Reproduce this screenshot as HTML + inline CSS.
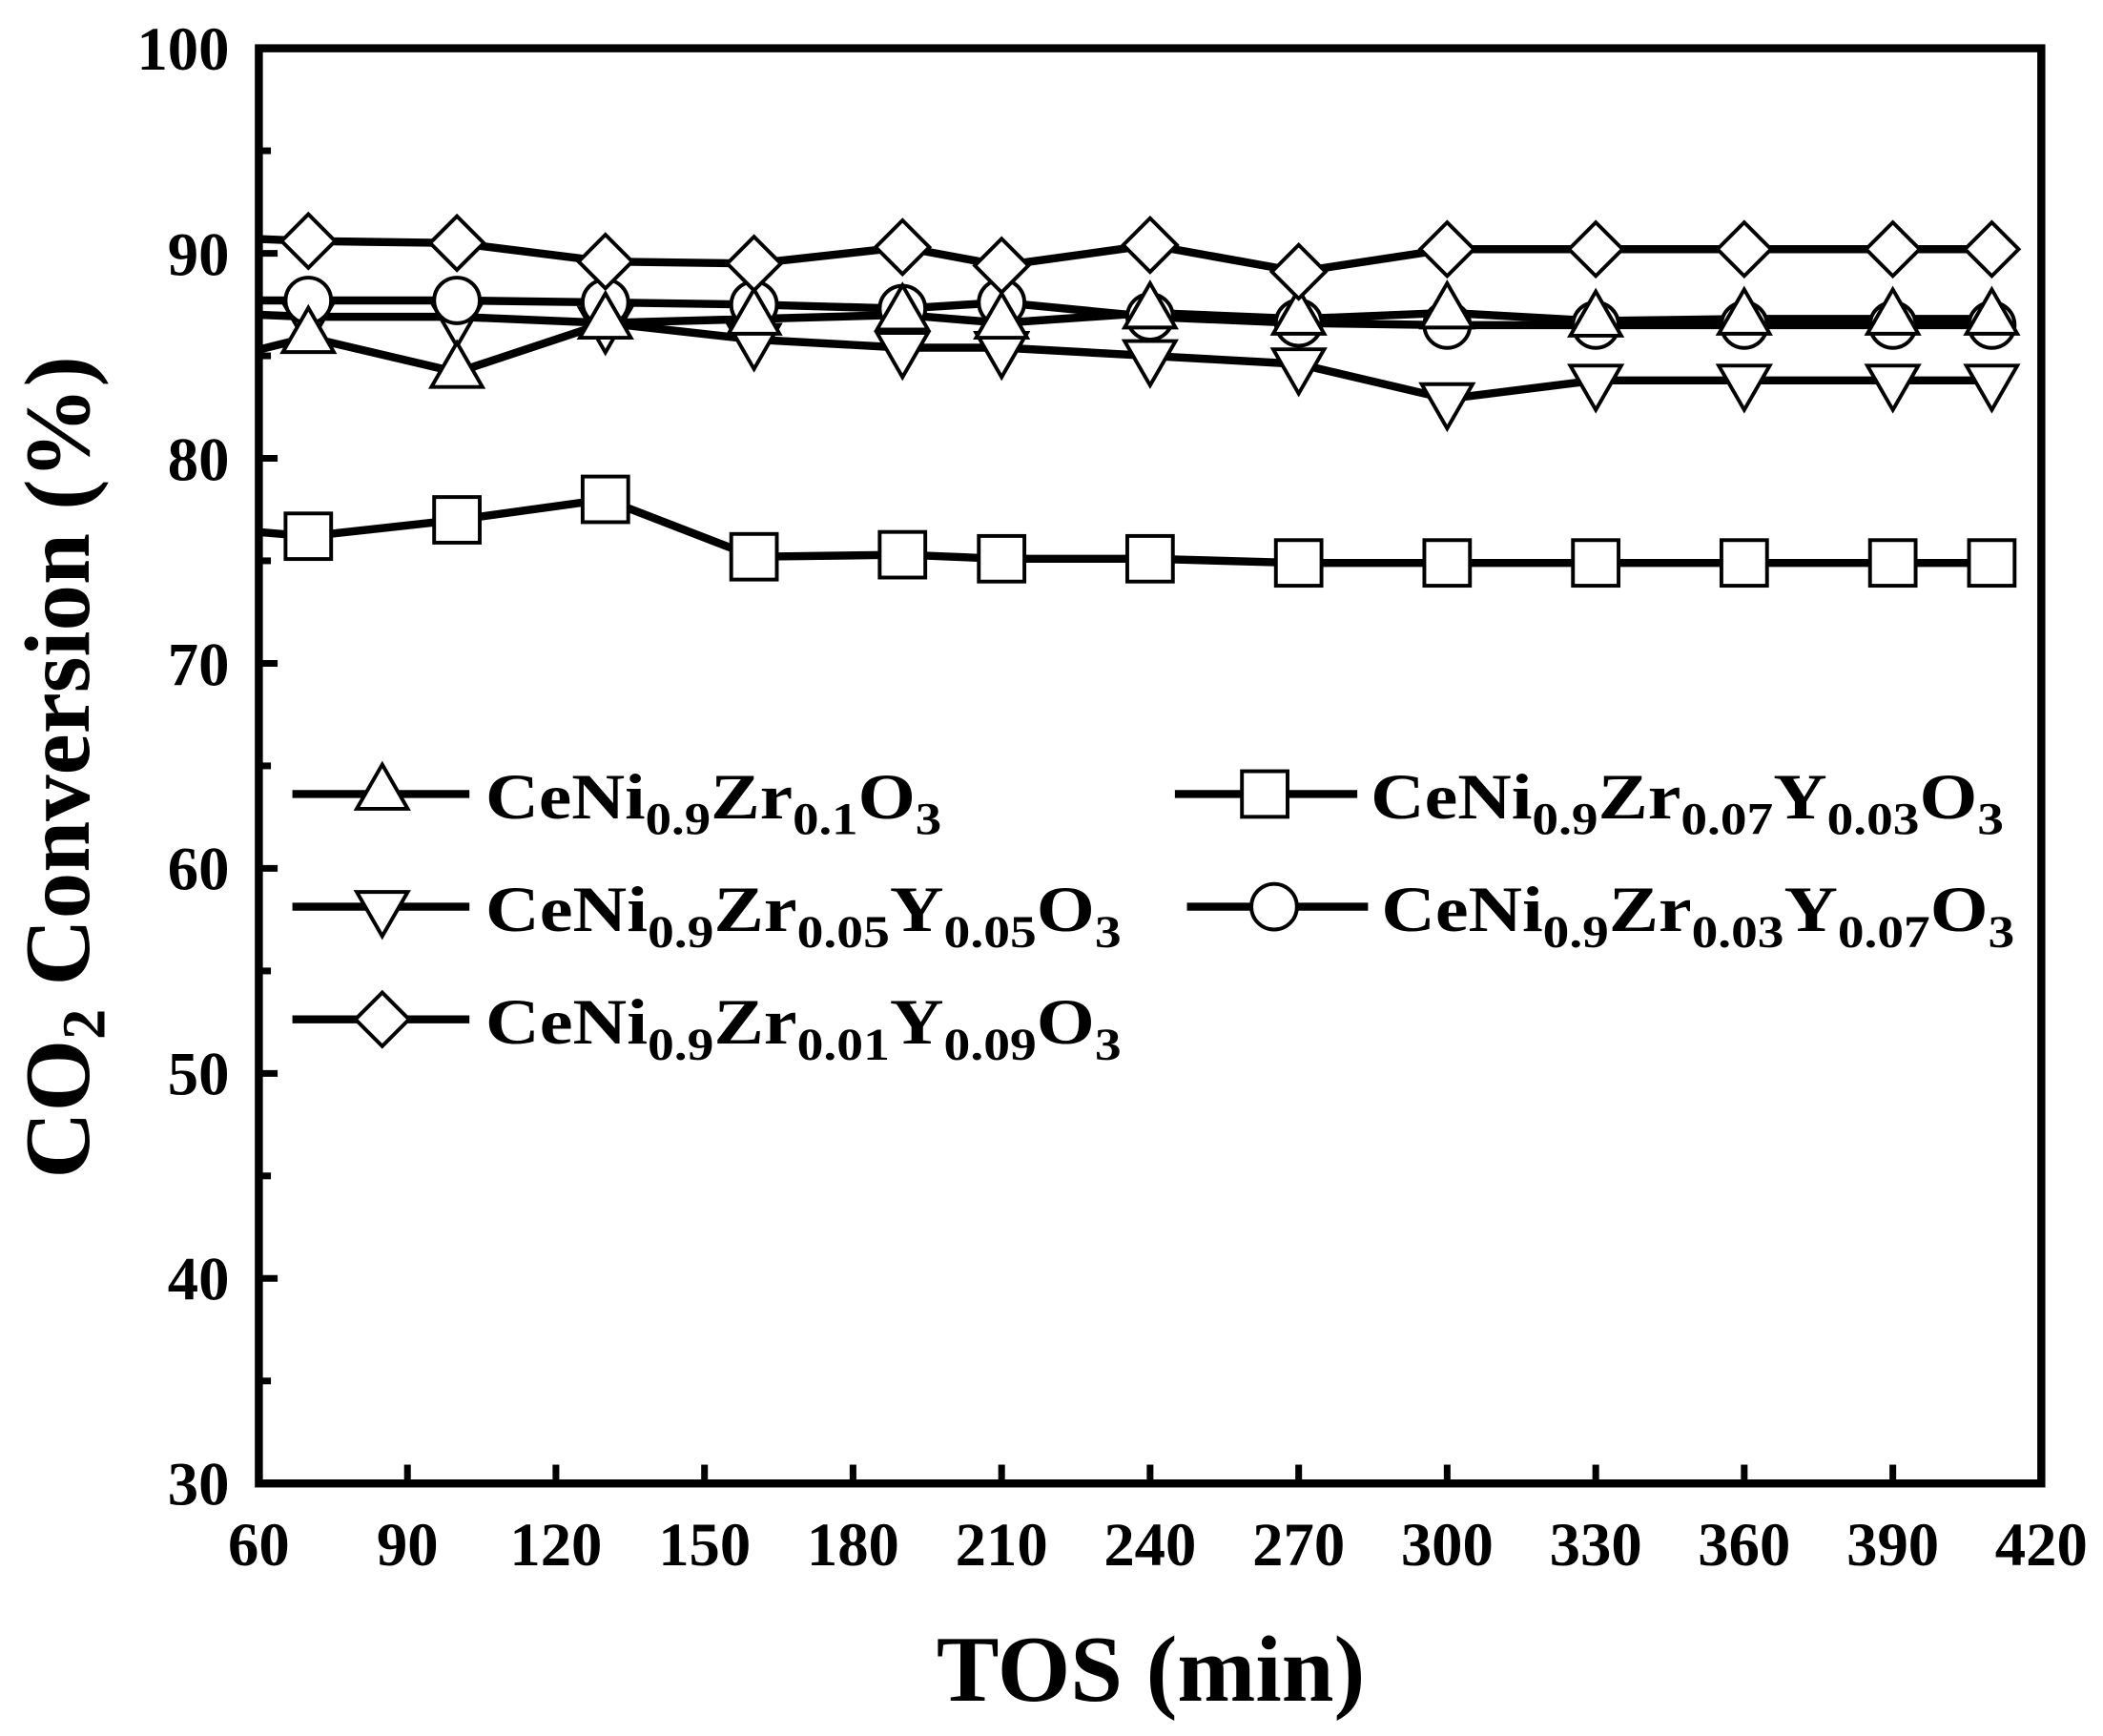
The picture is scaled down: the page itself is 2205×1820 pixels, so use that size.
<!DOCTYPE html>
<html><head><meta charset="utf-8"><style>html,body{margin:0;padding:0;background:#fff}svg{display:block}</style></head><body>
<svg xmlns="http://www.w3.org/2000/svg" xmlns:xlink="http://www.w3.org/1999/xlink" width="2205" height="1820" viewBox="0 0 1568 1294.3" preserveAspectRatio="none" font-family="Liberation Serif, serif" font-weight="bold">
<defs>
<polygon id="tu" points="0,-19 19,14 -19,14" fill="#fff" stroke="#000" stroke-width="2.8"/>
<polygon id="td" points="0,19 19,-14 -19,-14" fill="#fff" stroke="#000" stroke-width="2.8"/>
<rect id="sq" x="-17" y="-17" width="34" height="34" fill="#fff" stroke="#000" stroke-width="2.8"/>
<circle id="ci" r="17" fill="#fff" stroke="#000" stroke-width="2.8"/>
<polygon id="di" points="0,-20 20,0 0,20 -20,0" fill="#fff" stroke="#000" stroke-width="2.8"/>
</defs>
<g fill="none" stroke="#000" stroke-width="6" stroke-linejoin="round">
<polyline points="193,396.7 229.9,399.8 340.7,387.6 451.4,372.3 562.2,415.1 672.9,413.6 746.8,416.6 857.5,416.6 968.3,419.7 1079,419.7 1189.8,419.7 1300.5,419.7 1411.3,419.7 1485.1,419.7"/>
<polyline points="193,234.7 229.9,236.2 340.7,236.2 451.4,240.8 562.2,253.1 672.9,259.2 746.8,259.2 857.5,265.3 968.3,271.4 1079,297.4 1189.8,283.6 1300.5,283.6 1411.3,283.6 1485.1,283.6"/>
<polyline points="193,260.7 229.9,251.5 340.7,277.5 451.4,240.8 562.2,237.8 672.9,234.7 746.8,240.8 857.5,233.2 968.3,237.8 1079,233.2 1189.8,239.3 1300.5,237.8 1411.3,237.8 1485.1,237.8"/>
<polyline points="193,224 229.9,224 340.7,224 451.4,225.5 562.2,227.1 672.9,230.1 746.8,225.5 857.5,236.2 968.3,240.8 1079,242.4 1189.8,242.4 1300.5,242.4 1411.3,242.4 1485.1,242.4"/>
<polyline points="193,178.2 229.9,179.7 340.7,181.2 451.4,195 562.2,196.5 672.9,184.3 746.8,198 857.5,182.7 968.3,202.6 1079,185.8 1189.8,185.8 1300.5,185.8 1411.3,185.8 1485.1,185.8"/>
</g>
<use xlink:href="#sq" x="229.9" y="399.8"/><use xlink:href="#sq" x="340.7" y="387.6"/><use xlink:href="#sq" x="451.4" y="372.3"/><use xlink:href="#sq" x="562.2" y="415.1"/><use xlink:href="#sq" x="672.9" y="413.6"/><use xlink:href="#sq" x="746.8" y="416.6"/><use xlink:href="#sq" x="857.5" y="416.6"/><use xlink:href="#sq" x="968.3" y="419.7"/><use xlink:href="#sq" x="1079" y="419.7"/><use xlink:href="#sq" x="1189.8" y="419.7"/><use xlink:href="#sq" x="1300.5" y="419.7"/><use xlink:href="#sq" x="1411.3" y="419.7"/><use xlink:href="#sq" x="1485.1" y="419.7"/>
<use xlink:href="#td" x="229.9" y="239.2"/><use xlink:href="#td" x="340.7" y="239.2"/><use xlink:href="#td" x="451.4" y="243.8"/><use xlink:href="#td" x="562.2" y="256.1"/><use xlink:href="#td" x="672.9" y="262.2"/><use xlink:href="#td" x="746.8" y="262.2"/><use xlink:href="#td" x="857.5" y="268.3"/><use xlink:href="#td" x="968.3" y="274.4"/><use xlink:href="#td" x="1079" y="300.4"/><use xlink:href="#td" x="1189.8" y="286.6"/><use xlink:href="#td" x="1300.5" y="286.6"/><use xlink:href="#td" x="1411.3" y="286.6"/><use xlink:href="#td" x="1485.1" y="286.6"/>
<use xlink:href="#ci" x="229.9" y="224"/><use xlink:href="#ci" x="340.7" y="224"/><use xlink:href="#ci" x="451.4" y="225.5"/><use xlink:href="#ci" x="562.2" y="227.1"/><use xlink:href="#ci" x="672.9" y="230.1"/><use xlink:href="#ci" x="746.8" y="225.5"/><use xlink:href="#ci" x="857.5" y="236.2"/><use xlink:href="#ci" x="968.3" y="240.8"/><use xlink:href="#ci" x="1079" y="242.4"/><use xlink:href="#ci" x="1189.8" y="242.4"/><use xlink:href="#ci" x="1300.5" y="242.4"/><use xlink:href="#ci" x="1411.3" y="242.4"/><use xlink:href="#ci" x="1485.1" y="242.4"/>
<use xlink:href="#tu" x="229.9" y="248.5"/><use xlink:href="#tu" x="340.7" y="274.5"/><use xlink:href="#tu" x="451.4" y="237.8"/><use xlink:href="#tu" x="562.2" y="234.8"/><use xlink:href="#tu" x="672.9" y="231.7"/><use xlink:href="#tu" x="746.8" y="237.8"/><use xlink:href="#tu" x="857.5" y="230.2"/><use xlink:href="#tu" x="968.3" y="234.8"/><use xlink:href="#tu" x="1079" y="230.2"/><use xlink:href="#tu" x="1189.8" y="236.3"/><use xlink:href="#tu" x="1300.5" y="234.8"/><use xlink:href="#tu" x="1411.3" y="234.8"/><use xlink:href="#tu" x="1485.1" y="234.8"/>
<use xlink:href="#di" x="229.9" y="179.7"/><use xlink:href="#di" x="340.7" y="181.2"/><use xlink:href="#di" x="451.4" y="195"/><use xlink:href="#di" x="562.2" y="196.5"/><use xlink:href="#di" x="672.9" y="184.3"/><use xlink:href="#di" x="746.8" y="198"/><use xlink:href="#di" x="857.5" y="182.7"/><use xlink:href="#di" x="968.3" y="202.6"/><use xlink:href="#di" x="1079" y="185.8"/><use xlink:href="#di" x="1189.8" y="185.8"/><use xlink:href="#di" x="1300.5" y="185.8"/><use xlink:href="#di" x="1411.3" y="185.8"/><use xlink:href="#di" x="1485.1" y="185.8"/>
<rect x="193" y="36" width="1329" height="1070" fill="none" stroke="#000" stroke-width="6"/>
<g stroke="#000" stroke-width="5">
<line x1="193" y1="1029.6" x2="202" y2="1029.6"/><line x1="193" y1="953.1" x2="207" y2="953.1"/><line x1="193" y1="876.7" x2="202" y2="876.7"/><line x1="193" y1="800.3" x2="207" y2="800.3"/><line x1="193" y1="723.9" x2="202" y2="723.9"/><line x1="193" y1="647.4" x2="207" y2="647.4"/><line x1="193" y1="571" x2="202" y2="571"/><line x1="193" y1="494.6" x2="207" y2="494.6"/><line x1="193" y1="418.1" x2="202" y2="418.1"/><line x1="193" y1="341.7" x2="207" y2="341.7"/><line x1="193" y1="265.3" x2="202" y2="265.3"/><line x1="193" y1="188.9" x2="207" y2="188.9"/><line x1="193" y1="112.4" x2="202" y2="112.4"/>
<line x1="303.8" y1="1106" x2="303.8" y2="1092"/><line x1="414.5" y1="1106" x2="414.5" y2="1092"/><line x1="525.3" y1="1106" x2="525.3" y2="1092"/><line x1="636" y1="1106" x2="636" y2="1092"/><line x1="746.8" y1="1106" x2="746.8" y2="1092"/><line x1="857.5" y1="1106" x2="857.5" y2="1092"/><line x1="968.3" y1="1106" x2="968.3" y2="1092"/><line x1="1079" y1="1106" x2="1079" y2="1092"/><line x1="1189.8" y1="1106" x2="1189.8" y2="1092"/><line x1="1300.5" y1="1106" x2="1300.5" y2="1092"/><line x1="1411.3" y1="1106" x2="1411.3" y2="1092"/>
</g>
<g font-size="46" text-anchor="end">
<text x="171" y="1122">30</text><text x="171" y="969">40</text><text x="171" y="816">50</text><text x="171" y="663">60</text><text x="171" y="511">70</text><text x="171" y="358">80</text><text x="171" y="205">90</text><text x="171" y="52">100</text>
</g>
<g font-size="46" text-anchor="middle">
<text x="193" y="1167">60</text><text x="303.8" y="1167">90</text><text x="414.5" y="1167">120</text><text x="525.3" y="1167">150</text><text x="636" y="1167">180</text><text x="746.8" y="1167">210</text><text x="857.5" y="1167">240</text><text x="968.3" y="1167">270</text><text x="1079" y="1167">300</text><text x="1189.8" y="1167">330</text><text x="1300.5" y="1167">360</text><text x="1411.3" y="1167">390</text><text x="1522" y="1167">420</text>
</g>
<text x="858" y="1268" font-size="70" text-anchor="middle">TOS (min)</text>
<text transform="translate(66,572) rotate(-90)" font-size="69" text-anchor="middle">CO<tspan font-size="46" dy="12">2</tspan><tspan dy="-12"> Conversion (%)</tspan></text>
<g stroke="#000" stroke-width="6">
<line x1="218" y1="592" x2="350" y2="592"/><line x1="876" y1="592" x2="1012" y2="592"/>
<line x1="218" y1="676" x2="350" y2="676"/><line x1="885" y1="676" x2="1020" y2="676"/>
<line x1="218" y1="760" x2="350" y2="760"/>
</g>
<use xlink:href="#tu" x="285" y="589"/><use xlink:href="#sq" x="943" y="592"/>
<use xlink:href="#td" x="285" y="679"/><use xlink:href="#ci" x="950" y="676"/>
<use xlink:href="#di" x="285" y="760"/>
<g font-size="48">
<text x="362" y="610" textLength="340" lengthAdjust="spacingAndGlyphs">CeNi<tspan font-size="34" dy="12">0.9</tspan><tspan dy="-12">Zr</tspan><tspan font-size="34" dy="12">0.1</tspan><tspan dy="-12">O</tspan><tspan font-size="34" dy="12">3</tspan></text>
<text x="1022" y="610" textLength="472" lengthAdjust="spacingAndGlyphs">CeNi<tspan font-size="34" dy="12">0.9</tspan><tspan dy="-12">Zr</tspan><tspan font-size="34" dy="12">0.07</tspan><tspan dy="-12">Y</tspan><tspan font-size="34" dy="12">0.03</tspan><tspan dy="-12">O</tspan><tspan font-size="34" dy="12">3</tspan></text>
<text x="362" y="694" textLength="474" lengthAdjust="spacingAndGlyphs">CeNi<tspan font-size="34" dy="12">0.9</tspan><tspan dy="-12">Zr</tspan><tspan font-size="34" dy="12">0.05</tspan><tspan dy="-12">Y</tspan><tspan font-size="34" dy="12">0.05</tspan><tspan dy="-12">O</tspan><tspan font-size="34" dy="12">3</tspan></text>
<text x="1030" y="694" textLength="472" lengthAdjust="spacingAndGlyphs">CeNi<tspan font-size="34" dy="12">0.9</tspan><tspan dy="-12">Zr</tspan><tspan font-size="34" dy="12">0.03</tspan><tspan dy="-12">Y</tspan><tspan font-size="34" dy="12">0.07</tspan><tspan dy="-12">O</tspan><tspan font-size="34" dy="12">3</tspan></text>
<text x="362" y="778" textLength="474" lengthAdjust="spacingAndGlyphs">CeNi<tspan font-size="34" dy="12">0.9</tspan><tspan dy="-12">Zr</tspan><tspan font-size="34" dy="12">0.01</tspan><tspan dy="-12">Y</tspan><tspan font-size="34" dy="12">0.09</tspan><tspan dy="-12">O</tspan><tspan font-size="34" dy="12">3</tspan></text>
</g>
</svg>
</body></html>
